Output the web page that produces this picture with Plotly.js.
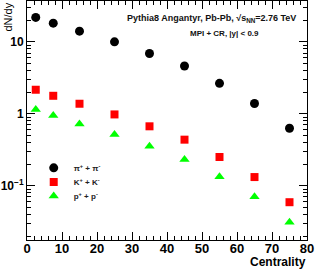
<!DOCTYPE html>
<html><head><meta charset="utf-8">
<script src="https://cdn.plot.ly/plotly-3.0.1.min.js"></script>
<style>html,body{margin:0;padding:0;background:#fff}#c{width:315px;height:270px}</style>
</head><body><div id="c"></div>
<script>
const centrality = [2.5, 7.5, 15, 25, 35, 45, 55, 65, 75];
const pions   = [21.9, 18.2, 14.1, 10.0, 6.89, 4.62, 2.65, 1.39, 0.63];
const kaons   = [2.16, 1.78, 1.38, 0.98, 0.67, 0.437, 0.251, 0.132, 0.059];
const protons = [1.15, 0.95, 0.724, 0.514, 0.353, 0.232, 0.133, 0.070, 0.031];
const seriesNames = ["π<sup>+</sup> + π<sup>-</sup>", "K<sup>+</sup> + K<sup>-</sup>", "p<sup>+</sup> + p<sup>-</sup>"];
const yTickVals = [0.1, 1, 10];
const yTickText = ["10<sup>−1</sup>", "1", "10"];
const yMinor = [0.02,0.03,0.04,0.05,0.06,0.07,0.08,0.09,0.2,0.3,0.4,0.5,0.6,0.7,0.8,0.9,2,3,4,5,6,7,8,9,20,30];

const F = "Liberation Sans, Arial, sans-serif";
const data = [
  {x: centrality, y: pions, name: seriesNames[0], mode: "markers", type: "scatter", legend: "legend",
   marker: {symbol: "circle", size: 9, color: "#000000"}},
  {x: centrality, y: kaons, name: seriesNames[1], mode: "markers", type: "scatter", legend: "legend2",
   marker: {symbol: "square", size: 8, color: "#ff0000"}},
  {x: centrality, y: protons, name: seriesNames[2], mode: "markers", type: "scatter", legend: "legend3",
   marker: {symbol: "triangle-up", size: 9, color: "#00ff00"}}
];
function leg(y) {
  return {x: 0.024, y: y, xanchor: "left", yanchor: "middle", bgcolor: "rgba(0,0,0,0)",
          font: {family: F, size: 8, color: "#222", weight: "bold"}, itemwidth: 30};
}
const layout = {
  width: 315, height: 270,
  margin: {l: 27, r: 8, t: 1, b: 30},
  paper_bgcolor: "#fff", plot_bgcolor: "#fff",
  showlegend: true,
  legend: leg(0.302), legend2: leg(0.243), legend3: leg(0.184),
  xaxis: {range: [0, 80], showline: true, linecolor: "#000", linewidth: 1, mirror: "allticks",
          ticks: "inside", ticklen: 8, tickcolor: "#000", dtick: 10, tick0: 0,
          showgrid: false, zeroline: false, ticklabelstandoff: -4,
          tickfont: {family: F, size: 13, color: "#000", weight: "bold"},
          minor: {dtick: 2, ticks: "inside", ticklen: 4, tickcolor: "#000", showgrid: false}},
  yaxis: {type: "log", range: [Math.log10(0.0176), Math.log10(37)], showline: true, linecolor: "#000",
          linewidth: 1, mirror: "allticks", ticks: "inside", ticklen: 8, tickcolor: "#000",
          tickvals: yTickVals, ticktext: yTickText, showgrid: false, zeroline: false,
          tickfont: {family: F, size: 12, color: "#000", weight: "bold"},
          minor: {tickvals: yMinor, ticks: "inside", ticklen: 4, tickcolor: "#000", showgrid: false}},
  annotations: [
    {xref: "paper", yref: "paper", x: 1.004, y: -0.09, xanchor: "right", yanchor: "middle",
     showarrow: false, text: "<b>Centrality</b>",
     font: {family: F, size: 12, color: "#000"}},
    {xref: "paper", yref: "paper", x: 0.968, y: 0.925, xanchor: "right", yanchor: "middle",
     showarrow: false, text: "<b>Pythia8 Angantyr, Pb-Pb, √s<sub>NN</sub>=2.76 TeV</b>",
     font: {family: F, size: 9, color: "#111"}},
    {xref: "paper", yref: "paper", x: 0.707, y: 0.866, xanchor: "center", yanchor: "middle",
     showarrow: false, text: "<b>MPI + CR, |y| &lt; 0.9</b>",
     font: {family: F, size: 8, color: "#111"}},
    {xref: "paper", yref: "paper", x: -0.068, y: 1.004, xanchor: "center", yanchor: "top",
     showarrow: false, textangle: -90, text: "dN/dy",
     font: {family: F, size: 11, color: "#000"}}
  ]
};
Plotly.newPlot("c", data, layout, {staticPlot: true, displayModeBar: false});
</script></body></html>
